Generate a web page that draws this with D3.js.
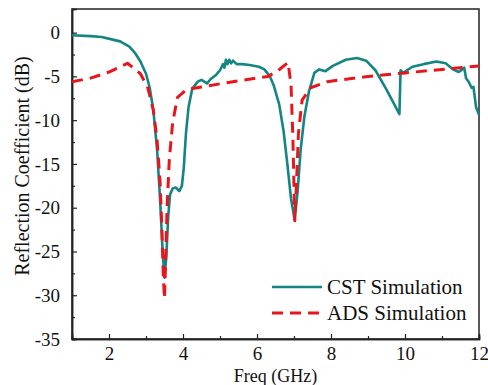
<!DOCTYPE html>
<html>
<head>
<meta charset="UTF-8">
<script src="https://d3js.org/d3.v7.min.js"></script>
<style>
  body { margin: 0; background: #fff; }
  text { font-family: "Liberation Serif", serif; }
  .curve { fill: none; stroke-linejoin: round; }
</style>
</head>
<body>
<svg id="chart" width="488" height="385" font-family="Liberation Serif"></svg>
<script>
// CST simulation [GHz, dB]
const cstData = [
  [1.0,-0.3],[1.5,-0.4],[1.8,-0.5],[2.1,-0.8],[2.3,-1.0],[2.55,-1.6],[2.7,-2.3],[2.85,-3.3],
  [3.0,-4.7],[3.1,-6.3],[3.2,-8.9],[3.3,-13.4],[3.38,-19],[3.45,-25],[3.5,-28],[3.55,-25.5],
  [3.6,-21],[3.65,-18.5],[3.72,-17.8],[3.8,-17.7],[3.9,-18.1],[3.97,-17.5],[4.02,-15.5],
  [4.08,-11.5],[4.15,-8.5],[4.25,-6.4],[4.4,-5.6],[4.5,-5.4],[4.65,-5.8],[4.75,-5.3],[4.9,-4.8],
  [5.0,-4.3],[5.08,-3.6],[5.12,-4.0],[5.16,-3.1],[5.2,-3.6],[5.25,-3.1],[5.3,-3.5],[5.35,-3.2],
  [5.45,-3.6],[5.6,-3.6],[5.8,-3.7],[6.05,-3.9],[6.2,-4.2],[6.35,-5.0],[6.45,-6.0],[6.6,-8.2],
  [6.72,-11.3],[6.82,-15.0],[6.92,-19.0],[7.02,-21.4],[7.1,-18.0],[7.18,-13.4],[7.28,-9.6],
  [7.4,-6.8],[7.55,-4.6],[7.68,-4.2],[7.85,-4.4],[8.05,-3.8],[8.4,-3.1],[8.7,-2.9],[8.95,-3.2],
  [9.2,-4.3],[9.5,-6.5],[9.85,-9.3],[9.88,-4.3],[9.95,-4.6],[10.2,-3.9],[10.5,-3.6],[10.85,-3.3],
  [11.1,-3.5],[11.3,-4.2],[11.45,-4.5],[11.55,-4.2],[11.6,-4.0],[11.65,-5.2],[11.72,-5.6],
  [11.8,-6.3],[11.85,-6.2],[11.92,-8.5],[12.0,-9.4]
];
// ADS simulation [GHz, dB]
const adsData = [
  [1.0,-5.6],[1.5,-5.2],[2.0,-4.5],[2.5,-3.5],[2.85,-4.7],[3.05,-6.3],[3.2,-8.9],[3.3,-12.3],
  [3.38,-17],[3.43,-22.5],[3.47,-28],[3.5,-30.4],[3.53,-26],[3.57,-20],[3.63,-14.5],[3.72,-10.3],
  [3.85,-7.4],[4.1,-6.5],[4.5,-6.2],[5.35,-5.6],[6.3,-5.0],[6.55,-4.4],[6.84,-3.4],[6.92,-6.0],
  [6.97,-12],[7.02,-21.5],[7.07,-17],[7.12,-11.5],[7.22,-7.7],[7.45,-6.3],[7.9,-5.6],[9.0,-5.0],
  [10.0,-4.6],[11.0,-4.2],[12.0,-3.8]
];
const xTicks = [2, 4, 6, 8, 10, 12];
const yTicks = [0, -5, -10, -15, -20, -25, -30, -35];
const seriesNames = ["CST Simulation", "ADS Simulation"];

const W = 488, H = 385;
const margin = {top: 9, right: 9, bottom: 46, left: 72};
const width = W - margin.left - margin.right,
      height = H - margin.top - margin.bottom;

const x = d3.scaleLinear().domain([1, 12]).range([0, width]);
const y = d3.scaleLinear().domain([-35, 2.7]).range([height, 0]);

const svg = d3.select("#chart");
const g = svg.append("g").attr("transform", `translate(${margin.left},${margin.top})`);

// frame
g.append("rect").attr("width", width).attr("height", height)
  .attr("fill", "none").attr("stroke", "#222").attr("stroke-width", 1.5);

// x axis (ticks inside)
g.append("g").attr("transform", `translate(0,${height})`)
  .call(d3.axisBottom(x).tickValues(xTicks).tickSize(-5).tickPadding(8).tickFormat(d3.format("d")));
g.append("g").attr("transform", `translate(0,${height})`)
  .call(d3.axisBottom(x).tickValues([3,5,7,9,11]).tickSize(-3).tickFormat(""));
// y axis
g.append("g")
  .call(d3.axisLeft(y).tickValues(yTicks).tickSize(-5).tickPadding(12).tickFormat(d => d === 0 ? "0" : "-" + Math.abs(d)));
g.append("g")
  .call(d3.axisLeft(y).tickValues([-2.5,-7.5,-12.5,-17.5,-22.5,-27.5,-32.5]).tickSize(-3).tickFormat(""));

g.selectAll("g").attr("font-family", "Liberation Serif");
g.selectAll(".domain").attr("stroke", "#222").attr("stroke-width", 1.5);
g.selectAll(".tick line").attr("stroke", "#222").attr("stroke-width", 1.2);
g.selectAll(".tick text").attr("font-size", 19).attr("fill", "#111");

const line = d3.line().x(d => x(d[0])).y(d => y(d[1]));

g.append("path").datum(cstData).attr("class", "curve")
  .attr("stroke", "#138583").attr("stroke-width", 2.6).attr("d", line);
g.append("path").datum(adsData).attr("class", "curve")
  .attr("stroke", "#e8161c").attr("stroke-width", 3).attr("stroke-dasharray", "11,7").attr("d", line);

// axis titles
svg.append("text").attr("x", margin.left + width / 2).attr("y", 382)
  .attr("text-anchor", "middle").attr("font-size", 18).attr("fill", "#111")
  .text("Freq (GHz)");
svg.append("text").attr("transform", `translate(29,${margin.top + height / 2 - 8}) rotate(-90)`)
  .attr("text-anchor", "middle").attr("font-size", 20).attr("fill", "#111")
  .text("Reflection Coefficient (dB)");

// legend
const leg = g.append("g").attr("transform", `translate(${272 - margin.left},${287 - margin.top})`);
[{c: "#138583", dash: null, w: 2.6}, {c: "#e8161c", dash: "11,7", w: 3}].forEach((s, i) => {
  const row = leg.append("g").attr("transform", `translate(0,${i * 26})`);
  row.append("line").attr("x1", 0).attr("x2", 50)
    .attr("stroke", s.c).attr("stroke-width", s.w).attr("stroke-dasharray", s.dash);
  row.append("text").attr("x", 55).attr("dy", "0.35em").attr("font-size", 21)
    .attr("fill", "#111").text(seriesNames[i]);
});
</script>
</body>
</html>
